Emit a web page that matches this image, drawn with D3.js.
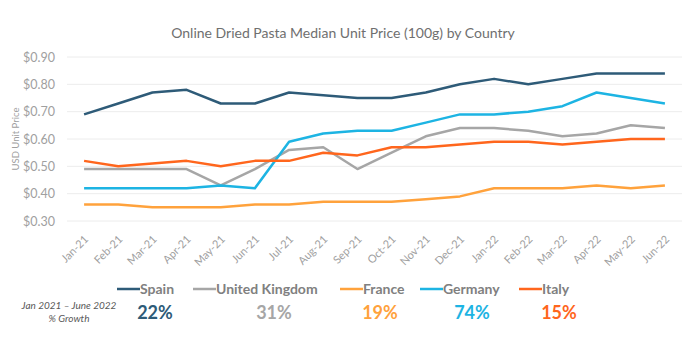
<!DOCTYPE html>
<html>
<head>
<meta charset="utf-8">
<script src="https://cdn.jsdelivr.net/npm/d3@7"></script>
<style>
    body { margin: 0; background: #fff; }
    svg text { font-family: Lato, "Open Sans", sans-serif; }
</style>
</head>
<body>
<svg id="chart" width="700" height="352"></svg>
<script>
// Months on the x axis
var months = ["Jan-21", "Feb-21", "Mar-21", "Apr-21", "May-21", "Jun-21", "Jul-21", "Aug-21", "Sep-21",
    "Oct-21", "Nov-21", "Dec-21", "Jan-22", "Feb-22", "Mar-22", "Apr-22", "May-22", "Jun-22"];

// Median unit price per 100g, USD
var spain = [0.69, 0.73, 0.77, 0.78, 0.73, 0.73, 0.77, 0.76, 0.75, 0.75, 0.77, 0.80, 0.82, 0.80, 0.82, 0.84, 0.84, 0.84];
var unitedKingdom = [0.49, 0.49, 0.49, 0.49, 0.43, 0.49, 0.56, 0.57, 0.49, 0.55, 0.61, 0.64, 0.64, 0.63, 0.61, 0.62, 0.65, 0.64];
var france = [0.36, 0.36, 0.35, 0.35, 0.35, 0.36, 0.36, 0.37, 0.37, 0.37, 0.38, 0.39, 0.42, 0.42, 0.42, 0.43, 0.42, 0.43];
var germany = [0.42, 0.42, 0.42, 0.42, 0.43, 0.42, 0.59, 0.62, 0.63, 0.63, 0.66, 0.69, 0.69, 0.70, 0.72, 0.77, 0.75, 0.73];
var italy = [0.52, 0.50, 0.51, 0.52, 0.50, 0.52, 0.52, 0.55, 0.54, 0.57, 0.57, 0.58, 0.59, 0.59, 0.58, 0.59, 0.60, 0.60];

var yTicks = [0.30, 0.40, 0.50, 0.60, 0.70, 0.80, 0.90];
var growthLabels = ["22%", "31%", "19%", "74%", "15%"];

var series = [
    {name: "Spain", values: spain, color: "#2e5b78", growth: growthLabels[0]},
    {name: "United Kingdom", values: unitedKingdom, color: "#a6a6a6", growth: growthLabels[1]},
    {name: "France", values: france, color: "#ffa23c", growth: growthLabels[2]},
    {name: "Germany", values: germany, color: "#1db4e3", growth: growthLabels[3]},
    {name: "Italy", values: italy, color: "#ff661d", growth: growthLabels[4]}
];

var svg = d3.select("#chart");
var plotLeft = 67, plotRight = 682, plotTop = 57, plotBottom = 221;

var xScale = d3.scaleBand().domain(months).range([plotLeft, plotRight]);
var yScale = d3.scaleLinear().domain([0.30, 0.90]).range([plotBottom, plotTop]);

// Title
svg.append("text")
    .attr("x", 343)
    .attr("y", 38)
    .attr("text-anchor", "middle")
    .style("font-size", "14px")
    .style("fill", "#6f6f6f")
    .text("Online Dried Pasta Median Unit Price (100g) by Country");

// Gridlines
svg.append("g")
    .attr("class", "grid")
    .selectAll("line")
    .data(yTicks)
    .enter()
    .append("line")
    .attr("x1", plotLeft)
    .attr("x2", plotRight)
    .attr("y1", function (d) { return yScale(d); })
    .attr("y2", function (d) { return yScale(d); })
    .attr("stroke", "#ececec")
    .attr("stroke-width", 1);

// Y axis
var yAxis = svg.append("g")
    .attr("transform", "translate(" + plotLeft + ",0)")
    .call(d3.axisLeft(yScale).tickValues(yTicks).tickSize(0).tickPadding(12).tickFormat(d3.format("$.2f")));
yAxis.select(".domain").remove();
yAxis.selectAll("text").style("font-size", "12.5px").style("fill", "#a0a0a0");

svg.append("text")
    .attr("transform", "translate(19," + ((plotTop + plotBottom) / 2) + ") rotate(-90)")
    .attr("text-anchor", "middle")
    .style("font-size", "9.5px")
    .style("fill", "#a0a0a0")
    .text("USD Unit Price");

// X axis
var xAxis = svg.append("g")
    .attr("transform", "translate(0," + plotBottom + ")")
    .call(d3.axisBottom(xScale).tickSize(0).tickPadding(0));
xAxis.select(".domain").remove();
xAxis.selectAll("text")
    .style("text-anchor", "end")
    .style("font-size", "11px")
    .style("fill", "#a0a0a0")
    .attr("y", 0)
    .attr("dy", "0")
    .attr("transform", "translate(5,19) rotate(-45)");

// Lines
var line = d3.line()
    .x(function (d, i) { return xScale(months[i]) + xScale.bandwidth() / 2; })
    .y(function (d) { return yScale(d); });

svg.append("g")
    .selectAll("path")
    .data(series)
    .enter()
    .append("path")
    .attr("d", function (d) { return line(d.values); })
    .attr("fill", "none")
    .attr("stroke", function (d) { return d.color; })
    .attr("stroke-width", 2.5)
    .attr("stroke-linejoin", "round");

// Legend + growth
var legendX = [117, 193, 340, 420, 519];
var growthX = [155, 274, 380, 472, 559];

var legend = svg.append("g")
    .selectAll("g")
    .data(series)
    .enter()
    .append("g")
    .attr("transform", function (d, i) { return "translate(" + legendX[i] + ",289)"; });

legend.append("line")
    .attr("x1", 0)
    .attr("x2", 23)
    .attr("y1", 0)
    .attr("y2", 0)
    .attr("stroke", function (d) { return d.color; })
    .attr("stroke-width", 2.5);

legend.append("text")
    .attr("x", 23)
    .attr("y", 5)
    .style("font-size", "14px")
    .style("font-weight", "bold")
    .style("fill", "#808080")
    .text(function (d) { return d.name; });

svg.append("g")
    .selectAll("text")
    .data(series)
    .enter()
    .append("text")
    .attr("x", function (d, i) { return growthX[i]; })
    .attr("y", 319)
    .attr("text-anchor", "middle")
    .style("font-size", "18px")
    .style("font-weight", "bold")
    .style("fill", function (d) { return d.color; })
    .text(function (d) { return d.growth; });

svg.append("text")
    .attr("x", 69)
    .attr("y", 309)
    .attr("text-anchor", "middle")
    .style("font-size", "10px")
    .style("font-style", "italic")
    .style("fill", "#595959")
    .text("Jan 2021 \u2013 June 2022");

svg.append("text")
    .attr("x", 69)
    .attr("y", 322)
    .attr("text-anchor", "middle")
    .style("font-size", "10px")
    .style("font-style", "italic")
    .style("fill", "#595959")
    .text("% Growth");
</script>
</body>
</html>
